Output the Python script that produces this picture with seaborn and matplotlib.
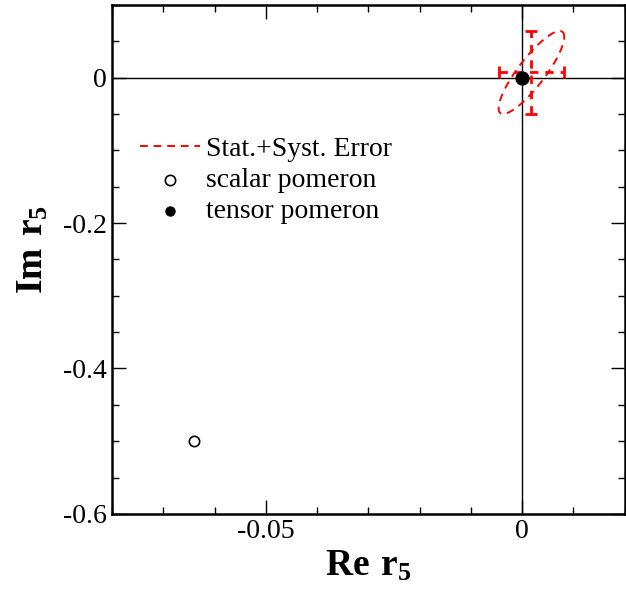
import numpy as np
import pandas as pd
import matplotlib
matplotlib.use('Agg')
import matplotlib.pyplot as plt
import seaborn as sns
from matplotlib.ticker import MultipleLocator

# Datos
scalar_re = [-0.064]
scalar_im = [-0.5]
tensor_re = [0.0]
tensor_im = [0.0]

# Medida con errores (Stat.+Syst.)
meas_re = 0.0018
meas_im = 0.007
err_re = 0.0064
err_im = 0.057
rho = 0.86  # correlación de la elipse

sns.set_theme(style='ticks')
plt.rcParams['font.family'] = ['Liberation Serif', 'DejaVu Serif']
plt.rcParams['mathtext.fontset'] = 'custom'
plt.rcParams['mathtext.rm'] = 'Liberation Serif'
plt.rcParams['mathtext.bf'] = 'Liberation Serif:bold'
for k in ['text.color', 'axes.labelcolor', 'xtick.color', 'ytick.color', 'axes.edgecolor']:
    plt.rcParams[k] = 'black'

fig = plt.figure(figsize=(6.26, 6.06), dpi=100)
ax = fig.add_axes([0.179, 0.152, 0.819, 0.840])

ax.axhline(0, color='black', lw=1.0, zorder=1)
ax.axvline(0, color='black', lw=1.0, zorder=1)

# Elipse de error
t = np.linspace(0, 2 * np.pi, 200)
ell = pd.DataFrame({'x': meas_re + err_re * np.cos(t),
                    'y': meas_im + err_im * np.cos(t - np.arccos(rho))})
sns.lineplot(data=ell, x='x', y='y', sort=False, estimator=None, ax=ax,
             color='red', lw=1.4, linestyle=(0, (4, 3)),
             label='Stat.+Syst. Error', zorder=3)

eb = ax.errorbar([meas_re], [meas_im], xerr=[err_re], yerr=[err_im], fmt='none',
                 ecolor='red', elinewidth=2.0, capsize=4, capthick=2.0, zorder=3)
eb[2][0].set_linestyle((0, (3, 2.5)))
eb[2][1].set_linestyle((0, (3, 2.5)))

sns.scatterplot(x=scalar_re, y=scalar_im, ax=ax, s=55, facecolor='white',
                edgecolor='black', linewidth=1.2, label='scalar pomeron', zorder=4)
sns.scatterplot(x=tensor_re, y=tensor_im, ax=ax, s=90, color='black',
                edgecolor='black', label='tensor pomeron', zorder=5)

ax.set_xlim(-0.08, 0.02)
ax.set_ylim(-0.6, 0.1)
ax.xaxis.set_major_locator(MultipleLocator(0.05))
ax.xaxis.set_minor_locator(MultipleLocator(0.01))
ax.yaxis.set_major_locator(MultipleLocator(0.2))
ax.yaxis.set_minor_locator(MultipleLocator(0.05))
ax.xaxis.set_major_formatter(plt.FuncFormatter(lambda v, p: '0' if abs(v) < 1e-9 else f'{v:g}'))
ax.yaxis.set_major_formatter(plt.FuncFormatter(lambda v, p: '0' if abs(v) < 1e-9 else f'{v:g}'))
ax.tick_params(which='both', direction='in', top=True, right=True, labelsize=20, width=1.0)
ax.tick_params(which='major', length=10)
ax.tick_params(which='minor', length=5)
for sp in ax.spines.values():
    sp.set_linewidth(1.8)

ax.set_xlabel(r'$\mathbf{Re\ r_5}$', fontsize=27, labelpad=4)
ax.set_ylabel(r'$\mathbf{Im\ r_5}$', fontsize=27)
ax.yaxis.set_label_coords(-0.12, 0.52)

leg = ax.legend(loc='upper left', bbox_to_anchor=(0.055, 0.741), frameon=False, fontsize=20,
                handlelength=2.15, handletextpad=0.2, labelspacing=0.2, borderaxespad=0,
                borderpad=0)
leg.legend_handles[2].set_sizes([45])

fig.savefig('out.png', dpi=100)
